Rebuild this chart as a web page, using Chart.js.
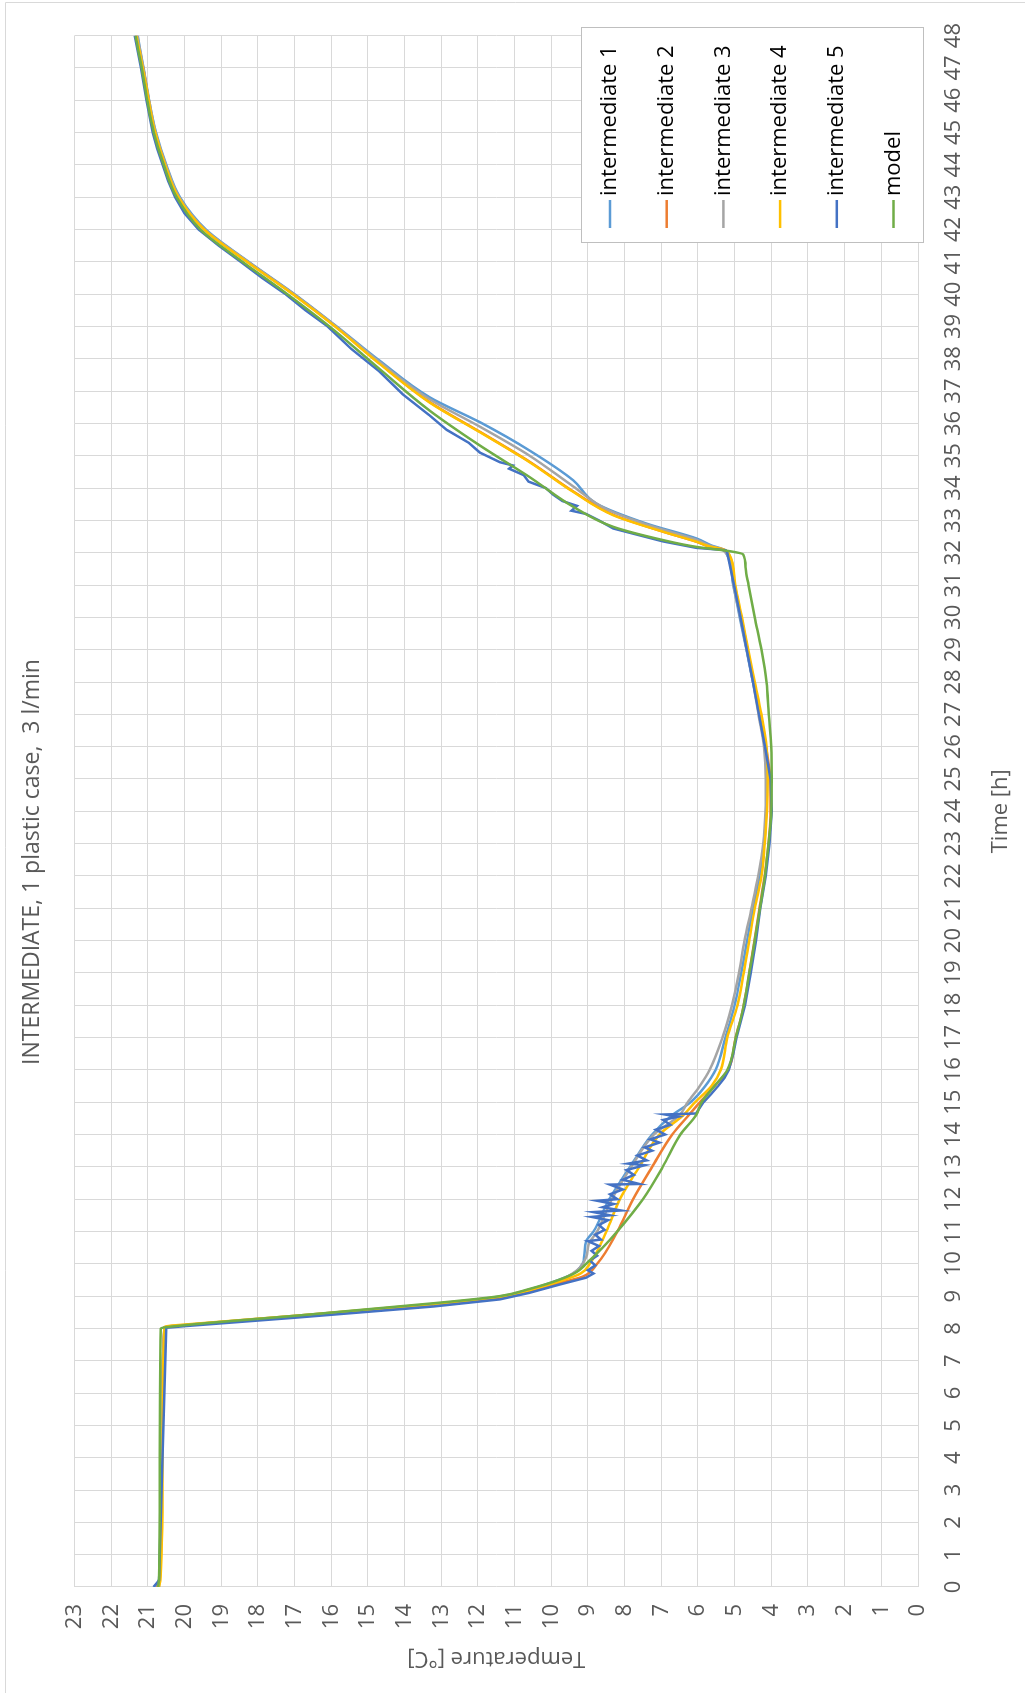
<!DOCTYPE html>
<html lang="en">
<head>
  <meta charset="UTF-8" />
  <title>INTERMEDIATE, 1 plastic case, 3 l/min</title>
  <script src="https://cdn.jsdelivr.net/npm/chart.js"></script>
  <style>
    html, body {
      margin: 0;
      padding: 0;
      background: #ffffff;
      width: 1025px;
      height: 1693px;
      overflow: hidden;
    }

    /* the chart is drawn landscape and turned a quarter turn to the left */
    .chart-box {
      position: absolute;
      left: 0;
      top: 0;
      width: 1693px;
      height: 1025px;
      transform-origin: 0 0;
      transform: translateY(1693px) rotate(-90deg);
    }
  </style>
</head>
<body>
  <div class="chart-box">
    <canvas id="tempChart" width="1693" height="1025"></canvas>
  </div>

  <script>
    const chartTitle = 'INTERMEDIATE, 1 plastic case,  3 l/min';
    const seriesNames = ['intermediate 1', 'intermediate 2', 'intermediate 3', 'intermediate 4', 'intermediate 5', 'model'];
    const seriesColors = ['#5B9BD5', '#ED7D31', '#A5A5A5', '#FFC000', '#4472C4', '#70AD47'];
    const timeTicks = { min: 0, max: 48, step: 1 };
    const tempTicks = { min: 0, max: 23, step: 1 };

    // intermediate 1
    const int1Hours = [0, 0.25, 4, 8.04, 8.1, 8.38, 8.74, 8.97, 9.17, 9.42, 9.7, 10, 10.25, 10.7, 11, 12, 13, 14, 14.6, 15, 15.5, 16,
      17, 18, 19, 20, 21, 22, 23, 24, 25, 26, 27, 28, 29, 30, 31, 31.95, 32.12, 32.22, 32.44, 32.9, 33.52, 34.24, 35.16, 36.04, 36.81,
      37.94, 39, 40, 41, 42, 43, 44, 45, 46, 47, 48];
    const int1Temps = [20.8, 20.7, 20.62, 20.55, 20.0, 16.9, 13.2, 11.4, 10.7, 10.0, 9.4, 9.15, 9.1, 9.05, 8.85, 8.42, 7.85, 7.25, 6.7, 6.2, 5.8, 5.52,
      5.25, 5.0, 4.82, 4.66, 4.5, 4.32, 4.2, 4.14, 4.12, 4.18, 4.32, 4.5, 4.68, 4.86, 5.04, 5.21, 5.35, 5.62, 6.04, 7.4, 8.77, 9.4, 10.59, 11.95, 13.32,
      14.68, 15.85, 17.0, 18.25, 19.42, 20.13, 20.5, 20.78, 20.97, 21.12, 21.28];

    // intermediate 2
    const int2Hours = [0, 0.25, 4, 8.05, 8.1, 8.37, 8.72, 8.95, 9.15, 9.4, 9.6, 10, 11, 12, 13, 14, 14.6, 15, 15.5, 16,
      17, 18, 19, 20, 21, 22, 23, 24, 25, 26, 27, 28, 29, 30, 31, 31.95, 32.1, 32.2, 32.34, 32.65, 33.16, 33.88, 34.8, 35.73, 36.65,
      37.84, 39, 40, 41, 42, 43, 44, 45, 46, 47, 48];
    const int2Temps = [20.75, 20.68, 20.62, 20.55, 20.0, 16.9, 13.2, 11.4, 10.6, 9.8, 9.15, 8.75, 8.2, 7.77, 7.25, 6.7, 6.25, 5.95, 5.55, 5.18,
      4.97, 4.75, 4.6, 4.46, 4.32, 4.18, 4.08, 4.02, 4.03, 4.15, 4.32, 4.48, 4.65, 4.82, 5.0, 5.16, 5.3, 5.72, 6.04, 6.95, 8.28, 9.38, 10.57, 11.93, 13.3,
      14.66, 15.88, 17.03, 18.28, 19.46, 20.16, 20.52, 20.8, 20.98, 21.13, 21.31];

    // intermediate 3
    const int3Hours = [0, 0.25, 4, 8.05, 8.11, 8.4, 8.76, 8.99, 9.2, 9.48, 9.8, 10.2, 10.6, 11, 12, 13, 14, 14.6, 15, 15.5, 16,
      17, 18, 19, 20, 21, 22, 23, 24, 25, 26, 27, 28, 29, 30, 31, 31.95, 32.12, 32.22, 32.4, 32.8, 33.35, 34.05, 35.0, 35.9, 36.75,
      37.9, 39, 40, 41, 42, 43, 44, 45, 46, 47, 48];
    const int3Temps = [20.7, 20.68, 20.62, 20.55, 20.0, 16.9, 13.2, 11.4, 10.6, 9.8, 9.3, 9.05, 8.98, 8.75, 8.35, 7.82, 7.2, 6.5, 6.28, 5.95, 5.68,
      5.33, 5.07, 4.88, 4.73, 4.54, 4.36, 4.22, 4.16, 4.15, 4.2, 4.35, 4.5, 4.67, 4.85, 5.03, 5.21, 5.38, 5.68, 6.04, 7.2, 8.5, 9.4, 10.59, 11.95, 13.32,
      14.68, 15.87, 17.02, 18.27, 19.45, 20.15, 20.51, 20.79, 20.97, 21.13, 21.29];

    // intermediate 4
    const int4Hours = [0, 0.25, 4, 8.06, 8.12, 8.4, 8.76, 8.98, 9.18, 9.45, 9.7, 10, 11, 12, 13, 14, 14.6, 15, 15.5, 16,
      17, 18, 19, 20, 21, 22, 23, 24, 25, 26, 27, 28, 29, 30, 31, 31.95, 32.1, 32.2, 32.34, 32.65, 33.16, 33.88, 34.8, 35.73, 36.65,
      37.84, 39, 40, 41, 42, 43, 44, 45, 46, 47, 48];
    const int4Temps = [20.7, 20.66, 20.6, 20.55, 20.0, 16.9, 13.2, 11.4, 10.6, 9.8, 9.2, 8.95, 8.5, 8.13, 7.6, 7.05, 6.4, 6.08, 5.63, 5.38,
      5.2, 4.92, 4.75, 4.6, 4.45, 4.27, 4.18, 4.12, 4.1, 4.13, 4.27, 4.45, 4.63, 4.8, 4.98, 5.15, 5.3, 5.7, 6.04, 6.95, 8.31, 9.4, 10.59, 11.95, 13.32,
      14.68, 15.9, 17.05, 18.3, 19.47, 20.17, 20.53, 20.8, 20.98, 21.14, 21.32];

    // intermediate 5 (noisy probe)
    const int5Hours = [0, 0.2, 4, 8.02, 8.07, 8.34, 8.68, 8.9, 9.1, 9.35, 9.57,
      9.7, 9.8, 9.95, 10.1, 10.25, 10.4, 10.55, 10.7, 10.75, 10.9, 11.05, 11.2, 11.35, 11.45, 11.5, 11.6, 11.65, 11.75, 11.85,
      11.95, 12.0, 12.15, 12.3, 12.45, 12.47, 12.6, 12.75, 12.9, 13.05, 13.1, 13.2, 13.35, 13.5, 13.6, 13.75, 13.85, 14.0,
      14.15, 14.3, 14.45, 14.55, 14.62, 14.65, 15, 15.25, 15.5, 15.75, 16, 16.5,
      17, 18, 19, 20, 21, 22, 23, 24, 25, 26, 27, 28, 29, 30, 31, 32, 32.08, 32.15, 32.35, 32.75, 33.0, 33.2, 33.3, 33.45,
      33.6, 33.8, 34.0, 34.2, 34.4, 34.6, 34.7, 34.8, 35.1, 35.4, 35.8, 36.25, 36.9, 37.6, 38.3, 39, 39.5, 40, 40.5, 41, 41.5,
      42, 42.5, 43, 43.5, 44, 44.5, 45, 46, 47, 48];
    const int5Temps = [20.85, 20.7, 20.6, 20.5, 20.0, 16.9, 13.2, 11.4, 10.6, 9.8, 9.05,
      8.85, 9.0, 8.8, 8.95, 8.75, 8.9, 8.7, 9.0, 8.65, 8.8, 8.55, 8.7, 8.45, 8.9, 8.4, 8.85, 8.1, 8.6, 8.3,
      8.75, 8.2, 8.4, 8.05, 8.4, 7.6, 8.05, 7.75, 7.95, 7.45, 7.9, 7.4, 7.65, 7.25, 7.45, 7.05, 7.3, 6.9,
      7.15, 6.75, 6.95, 6.55, 6.9, 6.05, 5.85, 5.64, 5.45, 5.28, 5.16, 5.04,
      4.95, 4.72, 4.56, 4.42, 4.3, 4.15, 4.05, 3.99, 4.02, 4.17, 4.34, 4.5, 4.67, 4.84, 5.02, 5.2, 5.25, 6.04, 6.95, 8.31, 8.7, 9.05, 9.45, 9.3,
      9.7, 9.95, 10.15, 10.62, 10.75, 11.15, 11.05, 11.4, 11.95, 12.25, 12.85, 13.32, 14.05, 14.68, 15.45, 16.1, 16.7, 17.25, 17.88, 18.47, 19.07,
      19.62, 20.0, 20.26, 20.45, 20.6, 20.75, 20.87, 21.04, 21.19, 21.36];

    // model
    const modelHours = [0, 0.25, 4, 8.0, 8.1, 8.4, 8.78, 9.0, 9.22, 9.5, 9.75, 10, 10.5, 11, 12, 13, 14, 14.6, 15, 15.5, 16,
      17, 18, 19, 20, 21, 22, 23, 24, 25, 26, 27, 28, 29, 30, 31, 31.5, 31.95, 32.05, 32.18, 32.39, 32.8, 33.42, 34.34, 35.32, 36.4,
      37.68, 39, 40, 41, 42, 43, 44, 45, 46, 47, 48];
    const modelTemps = [20.72, 20.7, 20.68, 20.65, 20.0, 16.9, 13.2, 11.4, 10.6, 9.8, 9.3, 9.05, 8.6, 8.2, 7.5, 6.96, 6.48, 6.05, 5.9, 5.55, 5.2,
      4.97, 4.75, 4.6, 4.45, 4.31, 4.17, 4.08, 4.0, 3.99, 4.0, 4.07, 4.13, 4.27, 4.45, 4.62, 4.7, 4.77, 5.15, 6.04, 6.95, 8.31, 9.4, 10.59, 11.95, 13.32,
      14.68, 16.05, 17.2, 18.42, 19.57, 20.22, 20.57, 20.84, 21.02, 21.17, 21.34];

    const seriesHours = [int1Hours, int2Hours, int3Hours, int4Hours, int5Hours, modelHours];
    const seriesTemps = [int1Temps, int2Temps, int3Temps, int4Temps, int5Temps, modelTemps];
    // the noisy probe keeps its jagged segments, the others are smoothed
    const smoothSeries = [true, true, true, true, false, true];

    const gridColor = '#D9D9D9';
    const labelColor = '#595959';
    Chart.defaults.font.family = '"Open Sans", sans-serif';

    // legend drawn as a framed box over the lower right of the plot
    const boxLegend = {
      id: 'boxLegend',
      afterDraw(chart) {
        const ctx = chart.ctx;
        const left = 1450, top = 581, width = 215, height = 342;
        ctx.save();
        // chart frame edges
        ctx.strokeStyle = gridColor;
        ctx.lineWidth = 1;
        ctx.beginPath();
        ctx.moveTo(0, 5.5);
        ctx.lineTo(1690.5, 5.5);
        ctx.lineTo(1690.5, 1025);
        ctx.stroke();

        ctx.fillStyle = '#ffffff';
        ctx.fillRect(left, top, width, height);
        ctx.strokeStyle = '#BFBFBF';
        ctx.strokeRect(left + 0.5, top + 0.5, width, height);
        ctx.font = '22px "Open Sans", sans-serif';
        ctx.textBaseline = 'middle';
        ctx.textAlign = 'left';
        chart.data.datasets.forEach((ds, i) => {
          const y = 610 + i * 56.7;
          ctx.strokeStyle = ds.borderColor;
          ctx.lineWidth = 2.5;
          ctx.beginPath();
          ctx.moveTo(1465, y);
          ctx.lineTo(1493, y);
          ctx.stroke();
          ctx.fillStyle = '#000000';
          ctx.fillText(ds.label, 1497, y);
        });
        ctx.restore();
      }
    };

    const datasets = seriesNames.map((name, i) => ({
      label: name,
      data: seriesHours[i].map((h, k) => ({ x: h, y: seriesTemps[i][k] })),
      borderColor: seriesColors[i],
      backgroundColor: seriesColors[i],
      borderWidth: 2.5,
      pointRadius: 0,
      showLine: true,
      cubicInterpolationMode: smoothSeries[i] ? 'monotone' : 'default',
      tension: 0,
      order: seriesNames.length - i
    }));

    new Chart(document.getElementById('tempChart'), {
      type: 'scatter',
      data: { datasets: datasets },
      options: {
        responsive: false,
        animation: false,
        layout: { padding: { left: 0, right: 31, top: 0, bottom: 0 } },
        plugins: {
          legend: { display: false },
          tooltip: { enabled: false },
          title: {
            display: true,
            text: chartTitle,
            color: labelColor,
            font: { size: 23, weight: 'normal' },
            padding: { top: 19, bottom: 28 }
          }
        },
        scales: {
          x: {
            type: 'linear',
            min: timeTicks.min,
            max: timeTicks.max,
            ticks: {
              stepSize: timeTicks.step,
              autoSkip: false,
              maxRotation: 0,
              color: labelColor,
              font: { size: 22 },
              padding: 23
            },
            grid: { color: gridColor, drawTicks: false },
            border: { color: gridColor },
            title: {
              display: true,
              text: 'Time [h]',
              color: labelColor,
              font: { size: 22 },
              padding: { top: 0, bottom: 11 }
            },
            afterFit(scale) { scale.height = 107; }
          },
          y: {
            min: tempTicks.min,
            max: tempTicks.max,
            ticks: {
              stepSize: tempTicks.step,
              autoSkip: false,
              color: labelColor,
              font: { size: 22 },
              padding: 17
            },
            grid: { color: gridColor, drawTicks: false },
            border: { display: false },
            title: {
              display: true,
              text: 'Temperature [°C]',
              color: labelColor,
              font: { size: 22 },
              padding: { top: 22, bottom: 0 }
            },
            afterFit(scale) { scale.width = 106; }
          }
        }
      },
      plugins: [boxLegend]
    });
  </script>
</body>
</html>
